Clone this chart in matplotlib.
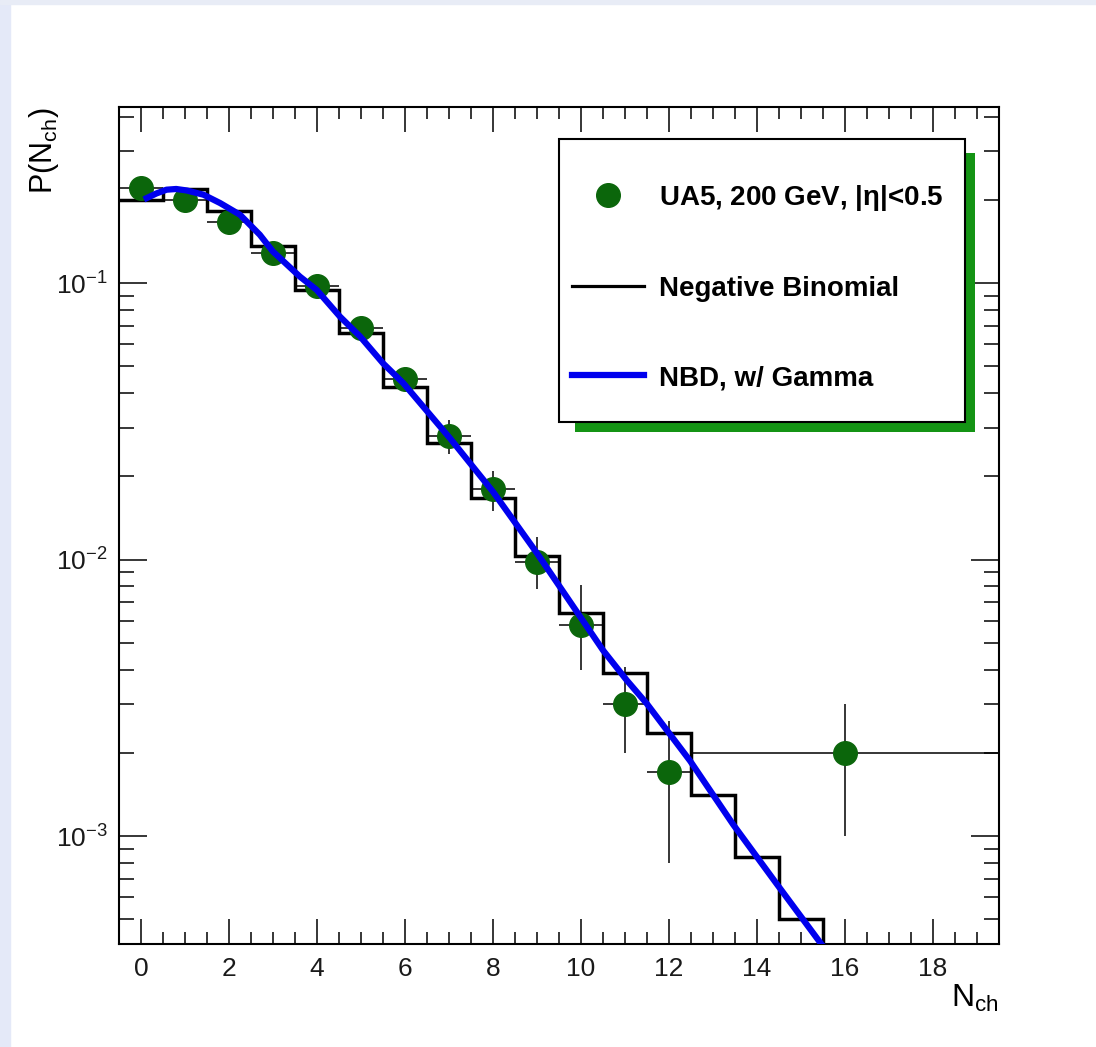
"""
UA5 200 GeV multiplicity distribution with NBD fits, ROOT style.
"""

import matplotlib
matplotlib.use('Agg')
import matplotlib.pyplot as plt
import numpy as np
from matplotlib.lines import Line2D
from matplotlib.patches import Rectangle
from matplotlib.ticker import MultipleLocator, LogLocator, NullFormatter

plt.rcParams['font.family'] = ['Liberation Sans', 'DejaVu Sans']
plt.rcParams['mathtext.default'] = 'regular'

# UA5 data, 200 GeV, |eta|<0.5
n_data = [0, 1, 2, 3, 4, 5, 6, 7, 8, 9, 10, 11, 12, 16]
p_data = [0.22, 0.20, 0.167, 0.128, 0.098, 0.069, 0.045, 0.028, 0.018,
          0.0098, 0.0058, 0.0030, 0.0017, 0.0020]
err_lo = [0.006, 0.006, 0.005, 0.005, 0.004, 0.004, 0.003, 0.004, 0.003,
          0.002, 0.0018, 0.001, 0.0009, 0.001]
err_hi = [0.006, 0.006, 0.005, 0.005, 0.004, 0.004, 0.003, 0.004, 0.003,
          0.0023, 0.0023, 0.0011, 0.0009, 0.001]
bin_half = [0.5] * 13 + [3.5]

# negative binomial, one value per integer bin
n_nbd = list(range(17))
p_nbd = [0.199, 0.219, 0.182, 0.136, 0.0946, 0.0659, 0.0422, 0.0265, 0.0167,
         0.0103, 0.0064, 0.0039, 0.00235, 0.00141, 0.00084, 0.00050, 0.0003]

# NBD smeared with gamma
x_gam = [0.13, 0.35, 0.58, 0.8, 1.04, 1.42, 1.8, 2.25, 2.7, 3.0, 3.61, 3.99,
         4.52, 4.98, 5.5, 5.96, 7.02, 8.0, 8.99, 9.98, 10.5, 11.04, 11.49,
         12.48, 13.46, 14.44, 15.47, 15.7]
p_gam = [0.203, 0.211, 0.2177, 0.219, 0.2163, 0.2088, 0.1947, 0.1767, 0.1496,
         0.130, 0.1056, 0.0946, 0.0757, 0.0641, 0.0513, 0.0435, 0.0275, 0.0176,
         0.0106, 0.00622, 0.0047, 0.00366, 0.00302, 0.00187, 0.00110,
         0.000674, 0.000405, 0.00037]

DOT = '#0b660b'
SHADOW = '#149414'
BLUE = '#0000ee'

fig = plt.figure(figsize=(10.96, 10.47), dpi=100)
# slide background peeking in at the edges
fig.patches.append(Rectangle((0, 0), 10 / 1096, 1, transform=fig.transFigure,
                             color='#e4e9f8', zorder=-10))
fig.patches.append(Rectangle((0, 1 - 4 / 1047), 1, 4 / 1047,
                             transform=fig.transFigure, color='#e8ecf6', zorder=-10))

ax = fig.add_axes([119 / 1096, 1 - 944 / 1047, 880 / 1096, 837 / 1047])
ax.set_yscale('log')

edges = np.array(n_nbd + [n_nbd[-1] + 1]) - 0.5
ax.stairs(p_nbd, edges, baseline=None, color='black', lw=2.5, zorder=2)

ax.errorbar(n_data, p_data, yerr=[err_lo, err_hi], xerr=bin_half, fmt='o',
            color=DOT, ms=17, ecolor='black', elinewidth=1.1, capsize=0, zorder=3)

ax.plot(x_gam, p_gam, color=BLUE, lw=4.5, zorder=4)

ax.set_xlim(-0.5, 19.5)
ax.set_ylim(4.07e-4, 0.4335)

ax.set_xticks(range(0, 19, 2))
ax.xaxis.set_minor_locator(MultipleLocator(0.5))
ax.set_yticks([1e-3, 1e-2, 1e-1], labels=[r'$10^{-3}$', r'$10^{-2}$', r'$10^{-1}$'])
ax.yaxis.set_minor_locator(LogLocator(base=10, subs=np.arange(2, 10)))
ax.yaxis.set_minor_formatter(NullFormatter())

ax.tick_params(which='both', direction='in', top=True, right=True,
               width=1.1, colors='black', labelcolor='#1a1a1a', labelsize=19)
ax.tick_params(axis='x', which='major', length=18, pad=9)
ax.tick_params(axis='x', which='minor', length=8.6)
ax.tick_params(axis='y', which='major', length=20, pad=8)
ax.tick_params(axis='y', which='minor', length=11)
for s in ax.spines.values():
    s.set_linewidth(1.5)

ax.set_xlabel(r'N$_{ch}$', fontsize=23, loc='right')
ax.xaxis.set_label_coords(1.0, -0.047)
ax.set_ylabel(r'P(N$_{ch}$)', fontsize=22, loc='top')
ax.yaxis.set_label_coords(-0.066, 1.0)

# legend box with ROOT-like shadow
ax.add_patch(Rectangle((0.5182, 0.6117), 0.4545, 0.3333, transform=ax.transAxes,
                       facecolor=SHADOW, edgecolor='none', zorder=5))
ax.add_patch(Rectangle((0.5, 0.6237), 0.4614, 0.3381, transform=ax.transAxes,
                       facecolor='white', edgecolor='black', lw=1.5, zorder=5.1))
handles = [
    Line2D([], [], ls='none', marker='o', ms=17, color=DOT),
    Line2D([], [], color='black', lw=2.3),
    Line2D([], [], color=BLUE, lw=4.5),
]
labels = [r'UA5, 200 GeV, |$\eta$|<0.5', 'Negative Binomial', 'NBD, w/ Gamma']
leg = ax.legend(handles, labels, loc='center left', bbox_to_anchor=(0.5148, 0.785),
                frameon=False, borderpad=0, borderaxespad=0, handlelength=2.6,
                handletextpad=0.54, labelspacing=2.27, numpoints=1,
                prop={'weight': 'bold', 'size': 20})
leg.set_zorder(6)

fig.savefig('out.png', dpi=100)
